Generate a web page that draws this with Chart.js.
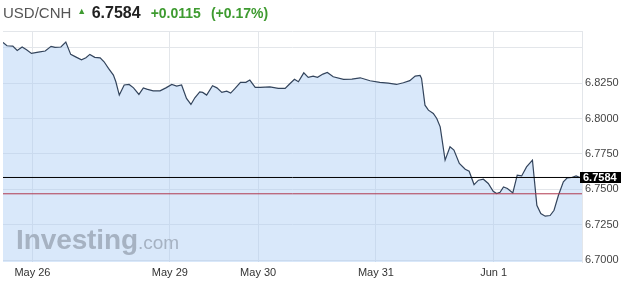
<!DOCTYPE html>
<html>
<head>
<meta charset="utf-8">
<script src="https://cdn.jsdelivr.net/npm/chart.js@4"></script>
<style>
    body { margin: 0; background: #fff; font-family: 'Liberation Sans', Arial, sans-serif; }
    #wrap { position: relative; width: 621px; height: 292px; overflow: hidden; }
    #quote { position: absolute; left: 3px; top: 3px; white-space: nowrap; line-height: 20px; }
    #quote .sym { font-size: 15px; color: #555; }
    #quote .arrow { font-size: 9px; color: #3e9b30; margin-left: 6px; margin-right: 1px; position: relative; top: -4px; }
    #quote .last { font-size: 16px; font-weight: bold; color: #222; }
    #quote .chg { font-size: 14px; font-weight: bold; color: #3e9b30; margin-left: 10px; }
    #brand { position: absolute; left: 16px; top: 224px; white-space: nowrap; color: #a6b2c2; }
    #brand .big { font-size: 28px; font-weight: bold; letter-spacing: -0.1px; }
    #brand .small { font-size: 19px; }
    canvas { position: absolute; left: 0; top: 0; }
</style>
</head>
<body>
<div id="wrap">
    <canvas id="fxChart" width="621" height="292"></canvas>
    <div id="quote"><span class="sym">USD/CNH</span><span class="arrow">&#9650;</span> <span class="last">6.7584</span><span class="chg">+0.0115</span><span class="chg">(+0.17%)</span></div>
    <div id="brand"><span class="big">Investing</span><span class="small">.com</span></div>
</div>
<script>
// hours counted from the start of the window (May 25 evening)
const hours = [
    0, 0.8, 2.0, 2.9, 3.9, 4.8, 5.8, 7.2, 8.6, 9.8, 10.6, 11.8, 12.8, 13.8, 14.9, 16.0, 16.9, 17.7, 18.7, 19.8,
    20.6, 21.5, 22.5, 23.0, 23.7, 24.7, 25.7, 26.6, 27.7, 28.6, 29.3, 30.6, 32.0, 33.2, 34.4, 35.4, 36.4, 37.4, 38.3, 39.1,
    40.1, 40.7, 41.5, 42.7, 43.6, 44.6, 45.6, 46.4, 47.3, 48.4, 49.5, 50.3, 51.4, 52.4, 54.4, 56.1, 57.5, 58.3, 59.4, 60.2,
    61.3, 62.2, 63.2, 64.1, 65.2, 66.1, 67.3, 69.4, 71.1, 72.8, 74.8, 76.8, 78.5, 80.2, 81.6, 82.9, 84.0, 85.0, 85.3, 86.0,
    86.7, 87.7, 88.4, 89.1, 90.1, 91.1, 91.9, 93.0, 94.2, 95.0, 96.0, 96.9, 97.9, 98.9, 99.9, 100.6, 101.3, 102.0, 102.8, 103.9,
    104.8, 105.7, 106.7, 107.9, 108.8, 109.6, 110.5, 111.5, 112.3, 113.2, 114.2, 115.0, 115.9, 116.8, 117.6, 118
];
const rates = [
    6.8537, 6.8513, 6.8511, 6.8480, 6.8504, 6.8485, 6.8459, 6.8468, 6.8476, 6.8509, 6.8502, 6.8504, 6.8539, 6.8452, 6.8433, 6.8414, 6.8428, 6.8452, 6.8431, 6.8428,
    6.8400, 6.8353, 6.8306, 6.8259, 6.8165, 6.8236, 6.8240, 6.8216, 6.8170, 6.8216, 6.8207, 6.8195, 6.8195, 6.8216, 6.8240, 6.8228, 6.8236, 6.8142, 6.8099, 6.8146,
    6.8188, 6.8184, 6.8165, 6.8231, 6.8216, 6.8184, 6.8193, 6.8179, 6.8212, 6.8255, 6.8255, 6.8271, 6.8219, 6.8219, 6.8223, 6.8212, 6.8212, 6.8240, 6.8276, 6.8259,
    6.8322, 6.8290, 6.8299, 6.8290, 6.8313, 6.8325, 6.8294, 6.8276, 6.8278, 6.8287, 6.8266, 6.8255, 6.8250, 6.8240, 6.8252, 6.8267, 6.8299, 6.8304, 6.8283, 6.8094,
    6.8059, 6.8036, 6.8000, 6.7941, 6.7706, 6.7800, 6.7777, 6.7683, 6.7642, 6.7628, 6.7534, 6.7565, 6.7572, 6.7542, 6.7487, 6.7471, 6.7480, 6.7517, 6.7506, 6.7475,
    6.7600, 6.7595, 6.7659, 6.7706, 6.7388, 6.7330, 6.7311, 6.7316, 6.7353, 6.7459, 6.7553, 6.7581, 6.7584, 6.7595, 6.7584, 6.7584
];
const lastPrice = 6.7584;
const prevClose = 6.7469;

const xTickHours = [6, 34, 52, 76, 100];
const xTickLabels = ['May 26', 'May 29', 'May 30', 'May 31', 'Jun 1'];
const yTickValues = [6.70, 6.725, 6.75, 6.775, 6.80, 6.825, 6.85];
const yTickShown = [6.70, 6.725, 6.75, 6.775, 6.80, 6.825];

const FONT = "'Liberation Sans', Arial, sans-serif";
const GRID = '#e3e6ea';

// top border + current price box
const extras = {
    id: 'extras',
    afterDraw(chart) {
        const ctx = chart.ctx;
        const area = chart.chartArea;
        ctx.save();
        ctx.strokeStyle = GRID;
        ctx.lineWidth = 1;
        ctx.beginPath();
        ctx.moveTo(area.left, area.top + 0.5);
        ctx.lineTo(area.right, area.top + 0.5);
        ctx.stroke();

        const y = Math.round(chart.scales.y.getPixelForValue(lastPrice));
        ctx.fillStyle = '#000';
        ctx.fillRect(area.right - 2, y - 5, chart.width - area.right + 2, 11);
        ctx.fillStyle = '#fff';
        ctx.font = 'bold 11px ' + FONT;
        ctx.textBaseline = 'middle';
        ctx.fillText(lastPrice.toFixed(4), area.right + 1, y + 0.5);
        ctx.restore();
    }
};

const ctx = document.getElementById('fxChart').getContext('2d');
new Chart(ctx, {
    type: 'line',
    data: {
        datasets: [{
            data: [{ x: 0, y: lastPrice }, { x: 118, y: lastPrice }],
            borderColor: '#000',
            borderWidth: 1,
            pointRadius: 0,
            fill: false
        }, {
            data: [{ x: 0, y: prevClose }, { x: 118, y: prevClose }],
            borderColor: '#b2394f',
            borderWidth: 1,
            pointRadius: 0,
            fill: false
        }, {
            data: hours.map(function(h, i) { return { x: h, y: rates[i] }; }),
            borderColor: '#33445c',
            borderWidth: 1.2,
            backgroundColor: 'rgba(170, 205, 245, 0.45)',
            pointRadius: 0,
            tension: 0,
            fill: 'start'
        }]
    },
    options: {
        responsive: false,
        animation: false,
        layout: { padding: { top: 31, left: 3, right: 0, bottom: 0 } },
        plugins: {
            legend: { display: false },
            tooltip: { enabled: false }
        },
        scales: {
            x: {
                type: 'linear',
                min: 0,
                max: 118,
                afterBuildTicks: function(scale) {
                    scale.ticks = xTickHours.map(function(v) { return { value: v }; });
                },
                afterFit: function(scale) { scale.height = 30; },
                grid: { color: GRID, drawTicks: false },
                border: { display: false },
                ticks: {
                    padding: 4,
                    color: '#333',
                    font: { family: FONT, size: 11 },
                    maxRotation: 0,
                    callback: function(value) {
                        return xTickLabels[xTickHours.indexOf(value)];
                    }
                }
            },
            y: {
                position: 'right',
                min: 6.6988,
                max: 6.8617,
                afterBuildTicks: function(scale) {
                    scale.ticks = yTickValues.map(function(v) { return { value: v }; });
                },
                afterFit: function(scale) { scale.width = 39; },
                grid: { color: GRID, drawTicks: false },
                border: { display: true, color: GRID },
                ticks: {
                    padding: 3,
                    color: '#444',
                    font: { family: FONT, size: 11 },
                    callback: function(value) {
                        return yTickShown.indexOf(value) >= 0 ? value.toFixed(4) : '';
                    }
                }
            }
        }
    },
    plugins: [extras]
});
</script>
</body>
</html>
